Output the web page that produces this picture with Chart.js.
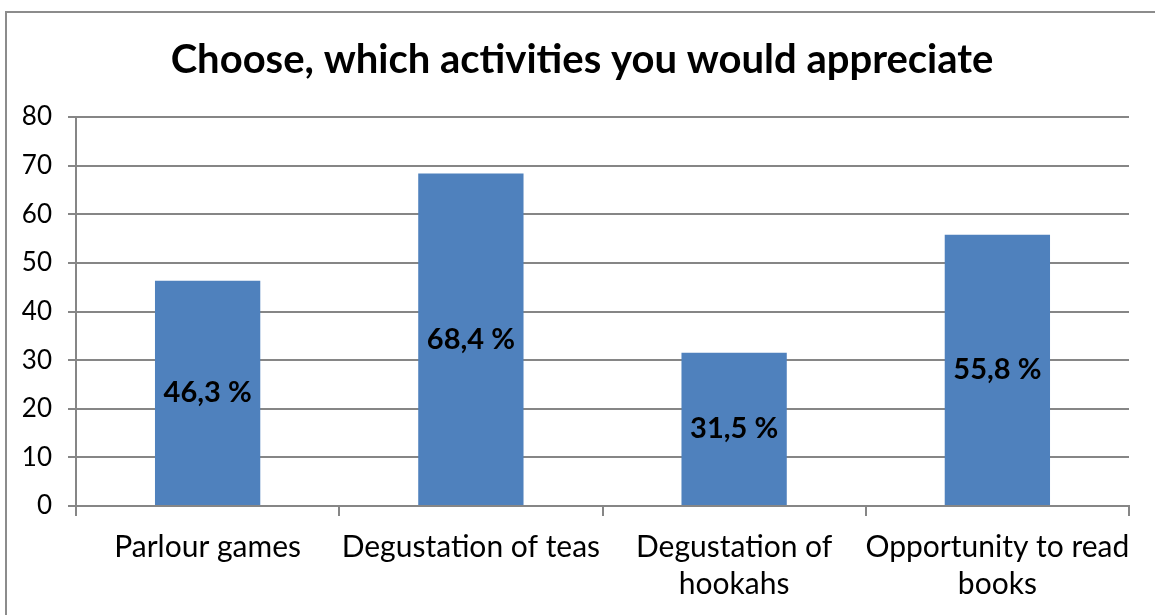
<!DOCTYPE html>
<html>
<head>
<meta charset="utf-8">
<script src="https://cdn.jsdelivr.net/npm/chart.js@4"></script>
<style>
  html, body { margin: 0; padding: 0; background: #fff; }
  #holder { width: 1155px; height: 615px; position: relative; }
</style>
</head>
<body>
<div id="holder"><canvas id="myChart"></canvas></div>
<script>
var categories = [
    ["Parlour games"],
    ["Degustation of teas"],
    ["Degustation of", "hookahs"],
    ["Opportunity to read", "books"]
];
var values = [46.3, 68.4, 31.5, 55.8];
var valueLabels = ["46,3 %", "68,4 %", "31,5 %", "55,8 %"];
var yTicks = [0, 10, 20, 30, 40, 50, 60, 70, 80];
var titleText = 'Choose, which activities you would appreciate';

var fontName = "Lato, 'Open Sans', sans-serif";

// frame round the chart (only left and top edges show in the picture)
// plus the title, centred over the whole frame rather than the plot
var framePlugin = {
    id: 'frame',
    beforeDraw: function (chart) {
        var c = chart.ctx;
        c.save();
        c.strokeStyle = '#8c8c8c';
        c.lineWidth = 2;
        c.beginPath();
        c.moveTo(6, chart.height + 5);
        c.lineTo(6, 12);
        c.lineTo(chart.width + 5, 12);
        c.stroke();

        c.font = "bold 40px " + fontName;
        c.fillStyle = '#000';
        c.textAlign = 'center';
        c.textBaseline = 'middle';
        c.fillText(titleText, 582, 60);
        c.restore();
    }
};

// value text in the middle of each bar
var labelPlugin = {
    id: 'barLabels',
    afterDatasetsDraw: function (chart) {
        var c = chart.ctx;
        var meta = chart.getDatasetMeta(0);
        c.save();
        c.font = "bold 29px " + fontName;
        c.fillStyle = '#000';
        c.textAlign = 'center';
        c.textBaseline = 'middle';
        meta.data.forEach(function (bar, i) {
            var mid = (bar.y + bar.base) / 2;
            c.fillText(valueLabels[i], bar.x, mid);
        });
        c.restore();
    }
};

var ctx = document.getElementById('myChart');

var myChart = new Chart(ctx, {
    type: 'bar',
    data: {
        labels: categories,
        datasets: [{
            data: values,
            backgroundColor: '#4f81bd',
            borderWidth: 0,
            barPercentage: 0.4,
            categoryPercentage: 1.0
        }]
    },
    options: {
        responsive: true,
        maintainAspectRatio: false,
        animation: false,
        layout: {
            padding: { left: 0, right: 26, top: 117, bottom: 0 }
        },
        plugins: {
            legend: { display: false },
            tooltip: { enabled: false },
            title: { display: false }
        },
        scales: {
            x: {
                grid: {
                    display: true,
                    drawOnChartArea: false,
                    offset: true,
                    tickLength: 10,
                    color: '#868686',
                    lineWidth: 2
                },
                border: { color: '#868686', width: 2 },
                ticks: {
                    color: '#000',
                    font: { family: fontName, size: 30, lineHeight: 1.23 },
                    padding: 13,
                    maxRotation: 0,
                    autoSkip: false
                },
                afterFit: function (scale) { scale.height = 109; }
            },
            y: {
                min: 0,
                max: 80,
                afterBuildTicks: function (scale) {
                    scale.ticks = yTicks.map(function (v) { return { value: v }; });
                },
                grid: {
                    color: '#868686',
                    lineWidth: 2,
                    tickLength: 8
                },
                border: { color: '#868686', width: 2 },
                ticks: {
                    color: '#000',
                    font: { family: fontName, size: 26 },
                    padding: 16
                },
                afterFit: function (scale) { scale.width = 76; }
            }
        }
    },
    plugins: [framePlugin, labelPlugin]
});
</script>
</body>
</html>
